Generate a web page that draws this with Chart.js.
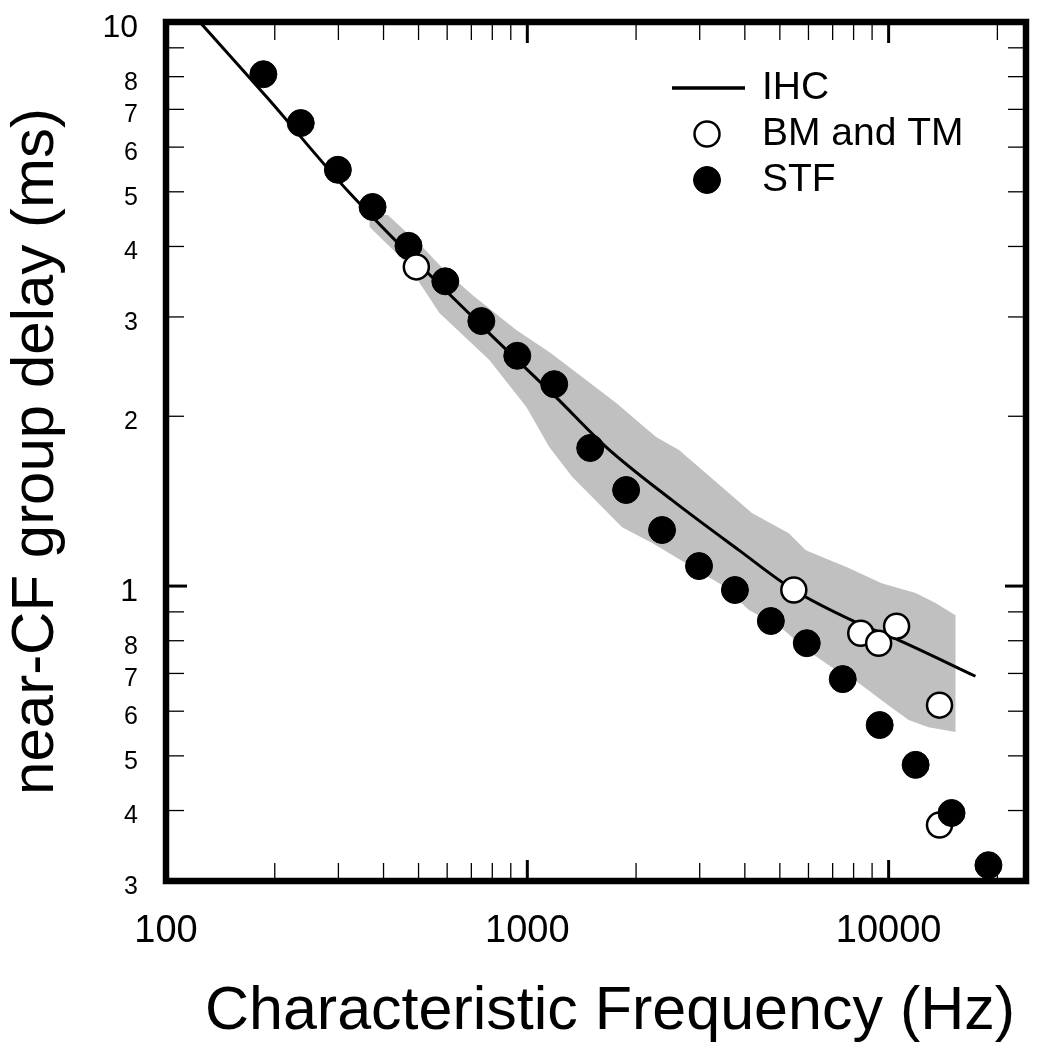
<!DOCTYPE html>
<html>
<head>
<meta charset="utf-8">
<script src="https://cdn.jsdelivr.net/npm/chart.js@4.4.1/dist/chart.umd.min.js"></script>
<style>
  html, body { margin: 0; padding: 0; background: #fff; }
  #wrap { width: 1041px; height: 1050px; }
</style>
</head>
<body>
<div id="wrap"><canvas id="delayChart" width="1041" height="1050"></canvas></div>
<script>
// STF, filled dots
const stfFreq  = [186, 236, 299, 373, 469, 593, 746, 938, 1187, 1493, 1877, 2360, 2987, 3755, 4721, 5935, 7464, 9446, 11877, 14932, 18891];
const stfDelay = [8.08, 6.62, 5.47, 4.70, 4.01, 3.47, 2.95, 2.56, 2.28, 1.757, 1.48, 1.257, 1.085, 0.984, 0.867, 0.792, 0.684, 0.567, 0.482, 0.396, 0.320];

// BM and TM, open circles
const bmFreq  = [493, 5465, 8372, 9384, 10520, 13830, 13830];
const bmDelay = [3.68, 0.984, 0.825, 0.792, 0.849, 0.615, 0.377];
const bmUnderStf = [6]; // this one is hidden behind an STF dot

// IHC curve
const ihcFreq  = [124, 190, 322, 770, 1202, 1653, 2515, 3851, 5465, 8107, 10656, 17390];
const ihcDelay = [10.0, 7.36, 4.98, 2.84, 2.16, 1.764, 1.42, 1.158, 0.984, 0.863, 0.802, 0.692];

// grey band: upper edge left to right, then lower edge back
const bandFreq = [366, 411, 513, 590, 705, 932, 1150, 1419, 1762, 2272, 2630, 3456, 4183, 5294, 5898, 7754, 9566, 11877, 13485, 15313,
                  15313, 12896, 11357, 9810, 8263, 6959, 5935, 5063, 4106, 3456, 2750, 2215, 1830, 1332, 1150, 994, 785, 571, 463, 366];
const bandDelay = [4.585, 4.548, 3.99, 3.63, 3.28, 2.844, 2.60, 2.348, 2.111, 1.837, 1.742, 1.498, 1.347, 1.241, 1.158, 1.076, 1.012, 0.972, 0.933, 0.888,
                   0.551, 0.562, 0.579, 0.620, 0.673, 0.718, 0.770, 0.842, 0.907, 1.004, 1.098, 1.192, 1.272, 1.561, 1.764, 2.077, 2.516, 3.05, 3.74, 4.33];

// axis ticks
const xTicks = [100, 200, 300, 400, 500, 600, 700, 800, 900, 1000, 2000, 3000, 4000, 5000, 6000, 7000, 8000, 9000, 10000, 20000];
const xTickLabels = ['100', '', '', '', '', '', '', '', '', '1000', '', '', '', '', '', '', '', '', '10000', ''];
const xMajor = [100, 1000, 10000];
const yTicks = [0.3, 0.4, 0.5, 0.6, 0.7, 0.8, 0.9, 1, 2, 3, 4, 5, 6, 7, 8, 9, 10];
const yTickLabels = ['3', '4', '5', '6', '7', '8', '', '1', '2', '3', '4', '5', '6', '7', '8', '', '10'];
const yMajor = [1, 10];

const FONT = "'Liberation Sans', Arial, Helvetica, sans-serif";
const X_TITLE = "Characteristic Frequency (Hz)";

const toXY = (xs, ys) => xs.map((v, i) => ({ x: v, y: ys[i] }));
const bmFront = toXY(bmFreq, bmDelay).filter((p, i) => !bmUnderStf.includes(i));
const bmBack = toXY(bmFreq, bmDelay).filter((p, i) => bmUnderStf.includes(i));

// frame plus inward tick marks on all four sides
const frameAndTicks = {
  id: "frameAndTicks",
  beforeDatasetsDraw(chart) {
    const { ctx, chartArea: a, scales: { x, y } } = chart;
    ctx.save();
    ctx.strokeStyle = "#000";
    ctx.lineCap = "butt";
    const mark = (x1, y1, x2, y2, w) => {
      ctx.lineWidth = w;
      ctx.beginPath();
      ctx.moveTo(x1, y1);
      ctx.lineTo(x2, y2);
      ctx.stroke();
    };
    x.ticks.forEach((t) => {
      const px = x.getPixelForValue(t.value);
      if (px < a.left + 2 || px > a.right - 2) return;
      const major = xMajor.includes(t.value);
      const len = major ? 21 : 18;
      const w = major ? 3 : 1.3;
      mark(px, a.bottom, px, a.bottom - len, w);
      mark(px, a.top, px, a.top + len, w);
    });
    y.ticks.forEach((t) => {
      const py = y.getPixelForValue(t.value);
      if (py < a.top + 2 || py > a.bottom - 2) return;
      const major = yMajor.includes(t.value);
      const len = major ? 21 : 18;
      const w = major ? 3 : 1.3;
      mark(a.left, py, a.left + len, py, w);
      mark(a.right, py, a.right - len, py, w);
    });
    ctx.lineWidth = 6.5;
    ctx.lineJoin = "miter";
    ctx.strokeRect(a.left, a.top, a.right - a.left, a.bottom - a.top);
    ctx.restore();
  },
};

// legend in the upper right corner, and the x title (sits a bit right of centre)
const cornerLegend = {
  id: "cornerLegend",
  afterDraw(chart) {
    const { ctx } = chart;
    const items = chart.data.datasets.filter((d) => d.inLegend);
    ctx.save();
    ctx.font = `39px ${FONT}`;
    ctx.fillStyle = "#000";
    ctx.textAlign = "left";
    ctx.textBaseline = "middle";
    items.forEach((d, i) => {
      const cy = 88 + i * 46;
      if (d.showLine) {
        ctx.strokeStyle = d.borderColor;
        ctx.lineWidth = 3.5;
        ctx.beginPath();
        ctx.moveTo(672, cy);
        ctx.lineTo(745, cy);
        ctx.stroke();
      } else {
        ctx.beginPath();
        ctx.arc(707, cy, d.pointRadius, 0, Math.PI * 2);
        ctx.fillStyle = d.pointBackgroundColor;
        ctx.fill();
        ctx.lineWidth = d.pointBorderWidth;
        ctx.strokeStyle = d.pointBorderColor;
        ctx.stroke();
        ctx.fillStyle = "#000";
      }
      ctx.fillText(d.label, 762, cy);
    });

    ctx.font = `61px ${FONT}`;
    ctx.textAlign = "center";
    ctx.fillText(X_TITLE, 610, 1012);
    ctx.restore();
  },
};

const stfStyle = {
  showLine: false, pointRadius: 13.5, pointBackgroundColor: "#000",
  pointBorderColor: "#000", pointBorderWidth: 1, clip: false,
};
const bmStyle = {
  showLine: false, pointRadius: 12.5, pointBackgroundColor: "#fff",
  pointBorderColor: "#000", pointBorderWidth: 2.5, clip: false,
};

new Chart(document.getElementById("delayChart"), {
  type: "scatter",
  data: {
    datasets: [
      {
        label: "band", data: toXY(bandFreq, bandDelay), order: 5,
        showLine: true, fill: "shape", backgroundColor: "#c0c0c0",
        borderWidth: 0, pointRadius: 0, tension: 0,
      },
      {
        label: "IHC", inLegend: true, data: toXY(ihcFreq, ihcDelay), order: 4,
        showLine: true, borderColor: "#000", borderWidth: 3, pointRadius: 0,
        cubicInterpolationMode: "monotone", fill: false,
      },
      { label: "BM and TM", data: bmBack, order: 3, ...bmStyle },
      { label: "BM and TM", inLegend: true, data: bmFront, order: 1, ...bmStyle },
      { label: "STF", inLegend: true, data: toXY(stfFreq, stfDelay), order: 2, ...stfStyle },
    ],
  },
  options: {
    responsive: false,
    animation: false,
    events: [],
    layout: { padding: { top: 22, right: 15, left: 0, bottom: 0 } },
    plugins: { legend: { display: false }, tooltip: { enabled: false } },
    scales: {
      x: {
        type: "logarithmic",
        position: "bottom",
        min: 100,
        max: 24000,
        afterBuildTicks: (s) => { s.ticks = xTicks.map((v) => ({ value: v })); },
        afterFit: (s) => {
          s.height = 169;
          s.paddingLeft = 0;
          s.paddingRight = 0;
        },
        grid: { display: false, drawTicks: false },
        border: { display: false },
        ticks: {
          autoSkip: false, maxRotation: 0, padding: 28, color: "#000",
          font: { size: 38, family: FONT },
          callback: (v, i) => xTickLabels[i],
        },
      },
      y: {
        type: "logarithmic",
        position: "left",
        min: 0.3,
        max: 10,
        afterBuildTicks: (s) => { s.ticks = yTicks.map((v) => ({ value: v })); },
        afterFit: (s) => {
          s.width = 166;
          s.paddingTop = 0;
          s.paddingBottom = 0;
        },
        grid: { display: false, drawTicks: false },
        border: { display: false },
        ticks: {
          autoSkip: false, padding: 28, labelOffset: 6, color: "#000",
          font: (c) => ({ size: c.tick && yMajor.includes(c.tick.value) ? 32 : 25, family: FONT }),
          callback: (v, i) => yTickLabels[i],
        },
        title: {
          display: true, text: "near-CF group delay (ms)", color: "#000",
          font: { size: 60, family: FONT }, padding: 0,
        },
      },
    },
  },
  plugins: [frameAndTicks, cornerLegend],
});
</script>
</body>
</html>
